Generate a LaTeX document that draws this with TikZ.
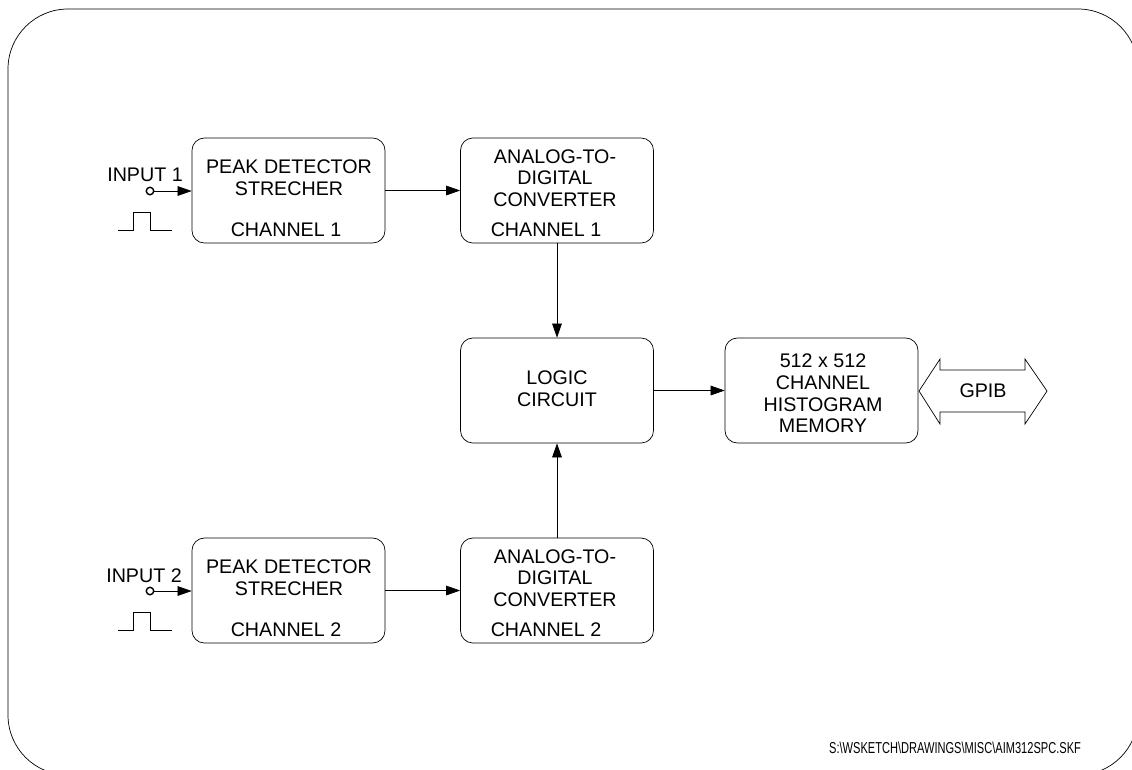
\documentclass[tikz,border=0pt]{standalone}
\usepackage{fontspec}
\setmainfont{Liberation Sans}
\usepackage{graphicx}
\usetikzlibrary{arrows.meta,positioning}
\tikzset{
>={Triangle[length=8pt,width=5.5pt]},
line width=1.1pt,
block/.style={draw, rounded corners=7pt, minimum width=3.86cm, minimum height=2.1cm, inner sep=0pt},
txt/.style={align=center, inner sep=0pt, font=\fontsize{11.2}{12.4}\selectfont},
port/.style={draw, circle, minimum size=0.15cm, inner sep=0pt, line width=0.8pt},
}

\begin{document}
\begin{tikzpicture}[x=0.02cm, y=-0.02cm]
    \useasboundingbox (0,0) rectangle (1132,769);
    \clip (0,0) rectangle (1132,769);
    % outer frame
    \draw[rounded corners=1.2cm] (8,9) rectangle (1138,775);

    \node[block] (pd1) at (288.5,190.5) {};
    \node[block] (adc1) at (557,190.5) {};
    \node[block] (logic) at (557,390.5) {};
    \node[block] (mem) at (821.5,390.5) {};
    \node[block] (pd2) at (288.5,590.5) {};
    \node[block] (adc2) at (557,590.5) {};

    \node[txt] (pd1a) at (289,177.5) {PEAK DETECTOR\\STRECHER};
    \node[txt] (pd1b) at (286,230) {CHANNEL 1};
    \node[txt] (adc1a) at (555,178) {ANALOG-TO-\\DIGITAL\\CONVERTER};
    \node[txt] (adc1b) at (546,230) {CHANNEL 1};
    \node[txt] (logica) at (557,389) {LOGIC\\CIRCUIT};
    \node[txt] (mema) at (823,393.5) {512 x 512\\CHANNEL\\HISTOGRAM\\MEMORY};
    \node[txt] (pd2a) at (289,577.5) {PEAK DETECTOR\\STRECHER};
    \node[txt] (pd2b) at (286,630) {CHANNEL 2};
    \node[txt] (adc2a) at (555,578) {ANALOG-TO-\\DIGITAL\\CONVERTER};
    \node[txt] (adc2b) at (546,630) {CHANNEL 2};

    % inputs
    \node[txt] (lab1) at (145,175) {INPUT 1};
    \node[port] (in1) at (150,191) {};
    \node[txt] (lab2) at (144,576) {INPUT 2};
    \node[port] (in2) at (150,591) {};
    \draw[->] (in1) -- (in1 -| pd1.west);
    \draw[->] (in2) -- (in2 -| pd2.west);
    \draw (118,230) -- (133,230) -- (133,212) -- (150,212) -- (150,230) -- (172,230);
    \draw (118,630) -- (133,630) -- (133,612) -- (150,612) -- (150,630) -- (172,630);

    % signal path
    \draw[->] (pd1) -- (adc1);
    \draw[->] (pd2) -- (adc2);
    \draw[->] (adc1) -- (logic);
    \draw[->] (adc2) -- (logic);
    \draw[->] (logic) -- (mem);

    % bus
    \draw (919,391) -- (940,359) -- (940,370) -- (1025,370) -- (1025,359) -- (1047,391)
          -- (1025,424) -- (1025,412) -- (940,412) -- (940,424) -- cycle;
    \node[txt] (gpib) at (983,391) {GPIB};

    \node[inner sep=0pt, font=\fontsize{9}{10}\selectfont] (file) at (955,748)
        {\scalebox{0.7}[1]{S:\textbackslash WSKETCH\textbackslash DRAWINGS\textbackslash MISC\textbackslash AIM312SPC.SKF}};
\end{tikzpicture}
\end{document}
